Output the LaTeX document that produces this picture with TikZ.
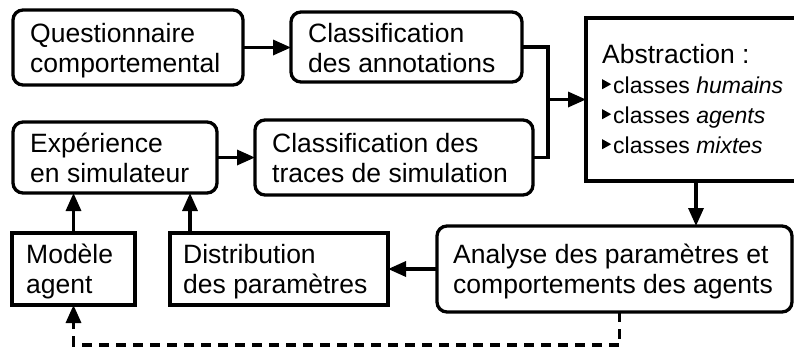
\documentclass[tikz,border=0pt]{standalone}
\usepackage{fontspec}
\setmainfont{Liberation Sans}
\usetikzlibrary{arrows.meta}
\newcommand\firstln{\rule{0pt}{20pt}}
\newcommand\tri{\tikz[baseline=0pt,x=1pt,y=1pt]\fill (0,4)--(0,14)--(9,9)--cycle;\hspace{2pt}}
\begin{document}
\begin{tikzpicture}[x=1pt,y=-1pt,
  box/.style={draw, line width=3.3pt, minimum width=#1, inner sep=0pt, outer sep=0pt},
  rbox/.style={box=#1, rounded corners=10pt},
  txt/.style={anchor=north west, inner sep=0pt, align=left, font=\fontsize{26.5}{30}\selectfont},
  conn/.style={line width=3.3pt},
  arr/.style={conn, -{Triangle[length=18pt,width=15pt]}}]
\useasboundingbox (0,0) rectangle (794,349);
\clip (0,0) rectangle (794,349);
% boxes
\node[rbox=230pt, minimum height=75pt] (q)   at (128,47.5) {};
\node[rbox=231pt, minimum height=70pt] (ca)  at (406.5,47) {};
\node[rbox=204pt, minimum height=71pt] (e)   at (115,157.5) {};
\node[rbox=278pt, minimum height=75pt] (ct)  at (394,157.5) {};
\node[box=220pt,  minimum height=163pt] (abs) at (696,99.5) {};
\node[rbox=355pt, minimum height=86pt] (an)  at (614.5,269) {};
\node[box=218pt,  minimum height=72pt] (d)   at (279,269) {};
\node[box=123pt,  minimum height=72pt] (m)   at (73.5,269) {};
% texts
\node[txt] (qt)  at (30,22)  {\firstln Questionnaire\\comportemental};
\node[txt] (cat) at (308,22) {\firstln Classification\\des annotations};
\node[txt] (et)  at (30,132) {\firstln Expérience\\en simulateur};
\node[txt] (ctt) at (272,132) {\firstln Classification des\\traces de simulation};
\node[txt] (abt) at (602,43) {\firstln Abstraction :\\
  {\fontsize{23}{30}\selectfont\tri classes \textit{humains}}\\
  {\fontsize{23}{30}\selectfont\tri classes \textit{agents}}\\
  {\fontsize{23}{30}\selectfont\tri classes \textit{mixtes}}};
\node[txt] (ant) at (453,243) {\firstln Analyse des paramètres et\\comportements des agents};
\node[txt] (dt)  at (183,243) {\firstln Distribution\\des paramètres};
\node[txt] (mt)  at (26,243)  {\firstln Modèle\\agent};
% connectors
\coordinate (j) at (548,99.5);
\draw[arr] (q.east) -- (q.east -| ca.west);
\draw[arr] (e.east) -- (e.east -| ct.west);
\draw[conn] (ca.east) -| (j);
\draw[conn] (ct.east) -| (j);
\draw[arr] (j) -- (abs.west);
\draw[arr] (abs.south) -- (abs.south |- an.north);
\draw[arr] (an.west) -- (an.west -| d.east);
\draw[arr] (m.north) -- (m.north |- e.south);
\coordinate (dtop) at ([xshift=20pt]d.north west);
\draw[arr] (dtop) -- (dtop |- e.south);
\coordinate (dstart) at ([xshift=5pt]an.south);
\draw[arr, dash pattern=on 10pt off 7pt] (dstart) -- ++(0,33) -| (m.south);
\end{tikzpicture}
\end{document}
